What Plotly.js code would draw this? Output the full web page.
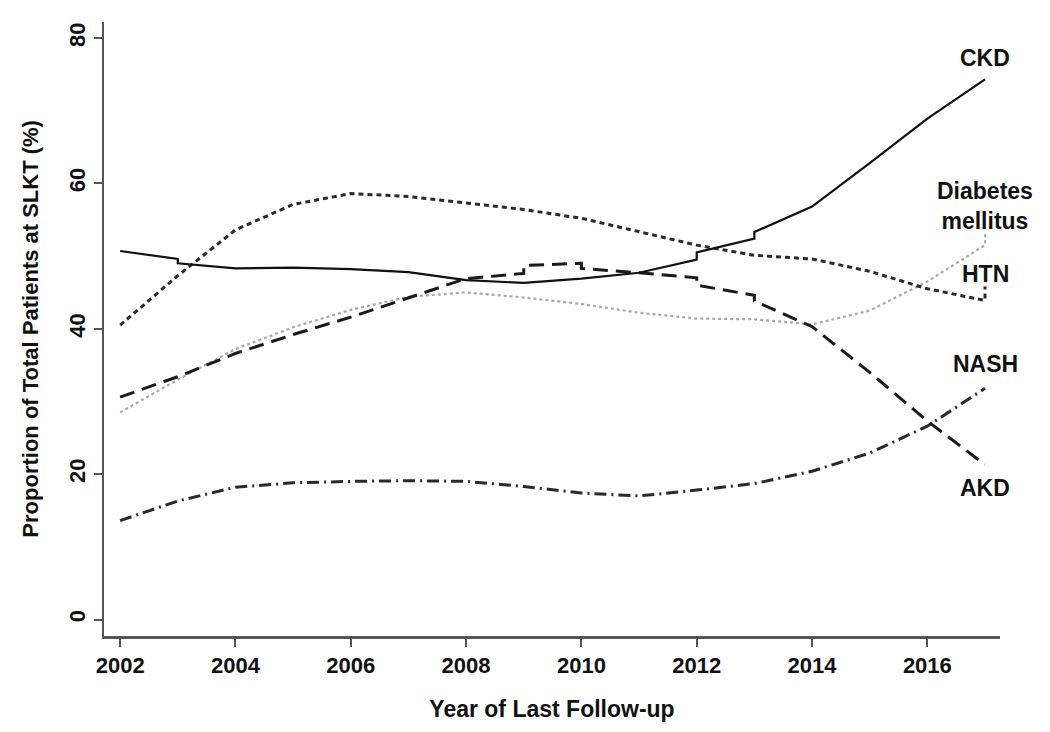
<!DOCTYPE html>
<html>
<head>
<meta charset="utf-8">
<script src="https://cdn.plot.ly/plotly-3.0.1.min.js"></script>
<style>html,body{margin:0;padding:0;background:#fff;}#chart{width:1050px;height:732px;}</style>
</head>
<body>
<div id="chart"></div>
<script>
// Data (duplicate years reproduce small vertical steps in the curves)
const ckdYears = [2002,2003,2003,2004,2005,2006,2007,2008,2009,2010,2011,2012,2012,2013,2013,2014,2015,2016,2017];
const ckdValues = [50.7,49.6,49.0,48.3,48.4,48.2,47.8,46.7,46.3,46.9,47.7,49.5,50.5,52.4,53.3,56.8,62.8,68.9,74.3];

const htnYears = [2002,2003,2004,2005,2006,2007,2008,2009,2010,2011,2012,2013,2014,2015,2016,2017,2017];
const htnValues = [40.5,47.3,53.6,57.1,58.6,58.2,57.3,56.4,55.2,53.4,51.5,50.1,49.6,47.9,45.5,43.9,45.8];

const dmYears = [2002,2003,2004,2005,2006,2007,2008,2009,2010,2011,2012,2013,2014,2015,2016,2017,2017];
const dmValues = [28.5,33.0,37.2,40.2,42.6,44.4,45.0,44.3,43.4,42.2,41.4,41.3,40.6,42.5,46.5,51.5,53.0];

const akdYears = [2002,2003,2004,2005,2006,2007,2008,2009,2009,2010,2010,2011,2012,2012,2013,2013,2014,2015,2016,2017];
const akdValues = [30.6,33.4,36.6,39.2,41.6,44.3,46.9,47.6,48.7,49.0,48.3,47.7,47.0,46.0,44.6,43.8,40.3,34.0,27.3,21.3];

const nashYears = [2002,2003,2004,2005,2006,2007,2008,2009,2010,2011,2012,2013,2014,2015,2016,2017];
const nashValues = [13.6,16.3,18.2,18.8,19.0,19.1,19.0,18.3,17.4,17.0,17.8,18.7,20.4,22.9,26.6,31.8];

const seriesLabels = ["CKD", "Diabetes<br>mellitus", "HTN", "NASH", "AKD"];
const labelYears = [2017, 2017, 2017, 2017, 2017];
const labelValues = [77.2, 56.9, 47.5, 35.1, 18.1];

const xTicks = [2002,2004,2006,2008,2010,2012,2014,2016];
const yTicks = [0,20,40,60,80];

const FONT = 'Liberation Sans, Arial, sans-serif';

const traces = [
  {x: dmYears, y: dmValues, mode: 'lines', line: {color: '#a8a8a8', width: 2.2, dash: 'dot'}, name: 'Diabetes mellitus'},
  {x: nashYears, y: nashValues, mode: 'lines', line: {color: '#2a2a2a', width: 3, dash: '12px,5px,2px,5px'}, name: 'NASH'},
  {x: akdYears, y: akdValues, mode: 'lines', line: {color: '#1a1a1a', width: 3, dash: '15px,8px'}, name: 'AKD'},
  {x: htnYears, y: htnValues, mode: 'lines', line: {color: '#2a2a2a', width: 3, dash: '5px,4px'}, name: 'HTN'},
  {x: ckdYears, y: ckdValues, mode: 'lines', line: {color: '#111', width: 2.2}, name: 'CKD'}
];

const annotations = seriesLabels.map((t, i) => ({
  x: labelYears[i], y: labelValues[i], xref: 'x', yref: 'y', text: '<b>' + t + '</b>',
  showarrow: false, font: {family: FONT, size: 23, color: '#111'},
  xanchor: 'center', yanchor: 'middle', align: 'center'
}));
annotations.push({
  xref: 'paper', yref: 'paper', x: -0.083, y: 0.5, textangle: -90,
  text: '<b>Proportion of Total Patients at SLKT (%)</b>', showarrow: false,
  font: {family: FONT, size: 22, color: '#111'}, xanchor: 'center', yanchor: 'middle'
});

const layout = {
  width: 1050, height: 732,
  margin: {l: 104, r: 50, t: 22, b: 96},
  paper_bgcolor: '#fff', plot_bgcolor: '#fff',
  showlegend: false,
  font: {family: FONT, color: '#111'},
  xaxis: {
    range: [2001.72, 2017.26], tickvals: xTicks, ticktext: xTicks.map(String),
    showgrid: false, zeroline: false, showline: true, linecolor: '#555', linewidth: 2.5,
    ticks: 'outside', ticklen: 8, tickwidth: 2, tickcolor: '#555',
    tickfont: {size: 22, family: FONT, weight: 'bold', color: '#111'},
    title: {text: '<b>Year of Last Follow-up</b>', font: {size: 23, color: '#111'}, standoff: 24}
  },
  yaxis: {
    range: [-2.27, 82.2], tickvals: yTicks, ticktext: yTicks.map(String), tickangle: -90,
    showgrid: false, zeroline: false, showline: true, linecolor: '#555', linewidth: 2.5,
    ticks: 'outside', ticklen: 8, tickwidth: 2, tickcolor: '#555',
    tickfont: {size: 22, family: FONT, weight: 'bold', color: '#111'}
  },
  annotations: annotations
};

Plotly.newPlot('chart', traces, layout, {displayModeBar: false, staticPlot: true});
</script>
</body>
</html>
